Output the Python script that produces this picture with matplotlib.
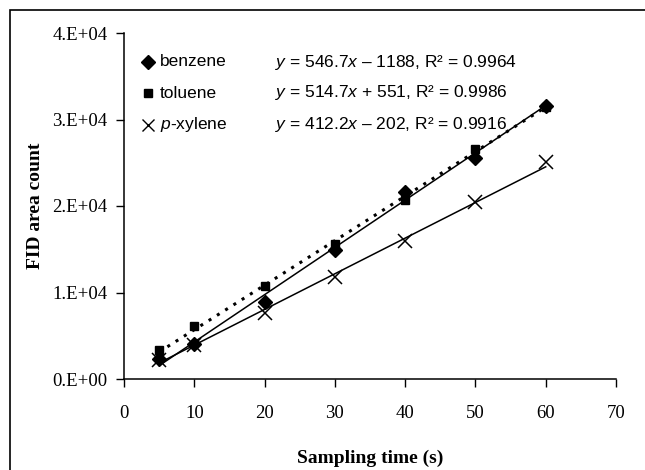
import numpy as np
import matplotlib.pyplot as plt
from matplotlib.patches import Rectangle

# sampling times (s)
times = [5, 10, 20, 30, 40, 50, 60]

# FID area counts
benzene = [2300, 4100, 8900, 14900, 21600, 25600, 31600]
toluene = [3400, 6100, 10800, 15600, 20700, 26600, 31500]
xylene = [2200, 3900, 7600, 11800, 16000, 20500, 25100]

# linear fits printed on the chart: slope, intercept
fit_benzene = [546.7, -1188]
fit_toluene = [514.7, 551]
fit_xylene = [412.2, -202]

labels = ["benzene", "toluene", "$\\mathit{p}$-xylene"]
equations = [
    "$\\mathit{y}$ = 546.7$\\mathit{x}$ \u2013 1188, R\u00b2 = 0.9964",
    "$\\mathit{y}$ = 514.7$\\mathit{x}$ + 551, R\u00b2 = 0.9986",
    "$\\mathit{y}$ = 412.2$\\mathit{x}$ \u2013 202, R\u00b2 = 0.9916",
]

xticks = [0, 10, 20, 30, 40, 50, 60, 70]
yticks = [0, 10000, 20000, 30000, 40000]
ytick_labels = ["0.E+00", "1.E+04", "2.E+04", "3.E+04", "4.E+04"]

plt.rcParams['mathtext.fontset'] = 'custom'
plt.rcParams['mathtext.rm'] = 'Liberation Sans'
plt.rcParams['mathtext.it'] = 'Liberation Sans:italic'

fig = plt.figure(figsize=(6.45, 4.70), dpi=100)
ax = fig.add_axes([124 / 645, 1 - 379 / 470, 492 / 645, 346 / 470])

# frame around the figure
fig.patches.append(Rectangle((10 / 645, -0.05), 1.2, 1 - 10 / 470 + 0.05,
                             transform=fig.transFigure, fill=False,
                             edgecolor='black', linewidth=1.2))

t = np.array(times, dtype=float)
ax.plot(t, fit_benzene[0] * t + fit_benzene[1], color='black', lw=1.1)
ax.plot(t, fit_toluene[0] * t + fit_toluene[1], color='black', lw=2.2,
        linestyle=(0, (1, 2.2)))
ax.plot(t, fit_xylene[0] * t + fit_xylene[1], color='black', lw=1.1)

ax.plot(times, benzene, 'D', color='black', ms=7.5, ls='none')
ax.plot(times, toluene, 's', color='black', ms=6, ls='none')
ax.plot(times, xylene, 'x', color='black', ms=10, mew=1.1, ls='none')

ax.set_xlim(0, 70)
ax.set_ylim(0, 40000)
ax.set_xticks(xticks)
ax.set_yticks(yticks)
ax.set_yticklabels(ytick_labels)
for lab in ax.get_xticklabels() + ax.get_yticklabels():
    lab.set_fontfamily('Liberation Serif')
    lab.set_fontsize(13.5)
ax.tick_params(axis='x', direction='out', length=6, width=1, pad=13)
ax.tick_params(axis='y', direction='out', length=6, width=1, pad=6)
ax.spines['top'].set_visible(False)
ax.spines['right'].set_visible(False)
ax.spines['left'].set_linewidth(1.1)
ax.spines['bottom'].set_linewidth(1.1)

ax.set_xlabel("Sampling time (s)", fontfamily='Liberation Serif',
              fontweight='bold', fontsize=14, labelpad=20)
ax.set_ylabel("FID area count", fontfamily='Liberation Serif',
              fontweight='bold', fontsize=14, labelpad=6)

# legend block placed in figure pixel positions
marker_styles = [('D', 7, None), ('s', 5.5, None), ('x', 9, 1.0)]
rows_y = [62, 93, 125]
for (m, ms, mew), lab, eq, yy in zip(marker_styles, labels, equations, rows_y):
    fy = 1 - yy / 470
    kw = {'mew': mew} if mew else {}
    ax.plot([148 / 645], [fy], m, color='black', ms=ms,
            transform=fig.transFigure, clip_on=False, **kw)
    fig.text(160 / 645, fy, lab, fontfamily='Liberation Sans', fontsize=12.5,
             va='center', ha='left')
    fig.text(275 / 645, fy, eq, fontfamily='Liberation Sans', fontsize=12.5,
             va='center', ha='left')

fig.savefig("out.png", dpi=100)
